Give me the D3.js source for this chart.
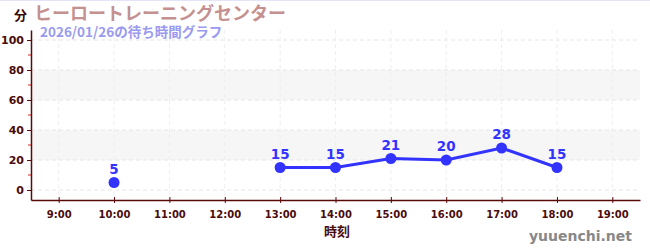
<!DOCTYPE html>
<html>
<head>
<meta charset="utf-8">
<script src="https://cdn.jsdelivr.net/npm/d3@7"></script>
<style>
  body { margin: 0; background: #fff; }
  svg { display: block; font-family: "Noto Sans CJK JP", "Noto Sans", sans-serif; }
</style>
</head>
<body>
<script>
const width = 650
const height = 250

// data
const hours = [10, 13, 14, 15, 16, 17, 18]
const waits = [5, 15, 15, 21, 20, 28, 15]
const xTicks = [9, 10, 11, 12, 13, 14, 15, 16, 17, 18, 19]
const yTicks = [0, 20, 40, 60, 80, 100]
const yMinor = [10, 30, 50, 70, 90]
const bands = [[20, 40], [60, 80]]

const title = 'ヒーロートレーニングセンター'
const subtitle = '2026/01/26の待ち時間グラフ'

const plotLeft = 31, plotRight = 640, plotTop = 30, plotBottom = 200

const svg = d3.select('body').append('svg')
  .attr('width', width)
  .attr('height', height)

const x = d3.scaleLinear().domain([8.5, 19.5]).range([plotLeft, plotRight])
const y = d3.scaleLinear().domain([-20/3, 320/3]).range([plotBottom, plotTop])

// top border
svg.append('rect').attr('x', 0).attr('y', 0).attr('width', width).attr('height', 1).attr('fill', '#e4e4f8')

// shaded bands
svg.selectAll('rect.band').data(bands).enter().append('rect')
  .attr('class', 'band')
  .attr('x', plotLeft)
  .attr('width', plotRight - plotLeft)
  .attr('y', d => y(d[1]))
  .attr('height', d => y(d[0]) - y(d[1]))
  .attr('fill', '#f6f6f6')

// grid
svg.selectAll('line.hgrid').data(yTicks).enter().append('line')
  .attr('x1', plotLeft).attr('x2', plotRight)
  .attr('y1', d => y(d)).attr('y2', d => y(d))
  .attr('stroke', '#e6e6e6').attr('stroke-dasharray', '4,3')
svg.selectAll('line.vgrid').data(xTicks).enter().append('line')
  .attr('x1', d => x(d)).attr('x2', d => x(d))
  .attr('y1', plotTop).attr('y2', plotBottom)
  .attr('stroke', '#eeeeee').attr('stroke-dasharray', '4,3')

// axes
const axisColor = '#5a0a0a'
const yAxis = svg.append('g')
  .attr('transform', `translate(${plotLeft},0)`)
  .call(d3.axisLeft(y).tickValues(yTicks).tickSize(4).tickSizeOuter(0))
const xAxis = svg.append('g')
  .attr('transform', `translate(0,${plotBottom})`)
  .call(d3.axisBottom(x).tickValues(xTicks).tickFormat(d => d + ':00').tickSize(4).tickSizeOuter(0))

;[yAxis, xAxis].forEach(a => {
  a.select('.domain').attr('stroke', axisColor).attr('stroke-width', 1.5)
  a.selectAll('.tick line').attr('stroke', axisColor)
  a.selectAll('text')
    .attr('fill', '#4a0c0c')
    .style('font-family', '"DejaVu Sans", sans-serif')
    .style('font-size', '11px')
    .style('font-weight', 'bold')
})
xAxis.selectAll('.tick line').attr('y1', -3).attr('y2', 3)
xAxis.selectAll('text').attr('dy', '1.1em').style('font-size', '10px')

// minor ticks (red)
svg.selectAll('line.minor').data(yMinor).enter().append('line')
  .attr('x1', plotLeft - 3).attr('x2', plotLeft)
  .attr('y1', d => y(d)).attr('y2', d => y(d))
  .attr('stroke', '#dd2222')

// line and points
const blue = '#3333ff'
const pts = hours.map((h, i) => [h, waits[i]])
const line = d3.line()
  .defined((d, i) => i > 0)
  .x(d => x(d[0])).y(d => y(d[1]))
svg.append('path')
  .datum(pts)
  .attr('d', line)
  .attr('fill', 'none')
  .attr('stroke', blue)
  .attr('stroke-width', 3)

svg.selectAll('circle.pt').data(pts).enter().append('circle')
  .attr('cx', d => x(d[0])).attr('cy', d => y(d[1]))
  .attr('r', 5.5)
  .attr('fill', blue)

svg.selectAll('text.val').data(pts).enter().append('text')
  .attr('x', d => x(d[0])).attr('y', d => y(d[1]) - 9)
  .attr('text-anchor', 'middle')
  .attr('fill', blue)
  .style('font-family', '"DejaVu Sans", sans-serif')
  .style('font-size', '13.5px')
  .style('font-weight', 'bold')
  .text(d => d[1])

// texts
svg.append('text')
  .attr('x', 14).attr('y', 20)
  .attr('fill', '#3a0a0a')
  .style('font-size', '13px').style('font-weight', 'bold')
  .text('分')
svg.append('text')
  .attr('x', 34).attr('y', 20)
  .attr('fill', '#c49090')
  .style('font-size', '18px').style('font-weight', 'bold')
  .text(title)
svg.append('text')
  .attr('x', 40).attr('y', 37)
  .attr('fill', '#9a9af0')
  .style('font-size', '13.5px').style('font-weight', 'bold')
  .text(subtitle)
svg.append('text')
  .attr('x', 337).attr('y', 236)
  .attr('text-anchor', 'middle')
  .attr('fill', '#4a0c0c')
  .style('font-size', '13px').style('font-weight', 'bold')
  .text('時刻')
svg.append('text')
  .attr('x', 632).attr('y', 241)
  .attr('text-anchor', 'end')
  .attr('fill', '#888888')
  .style('font-family', '"DejaVu Sans", sans-serif')
  .style('font-size', '14px')
  .style('font-weight', 'bold')
  .text('yuuenchi.net')
</script>
</body>
</html>
